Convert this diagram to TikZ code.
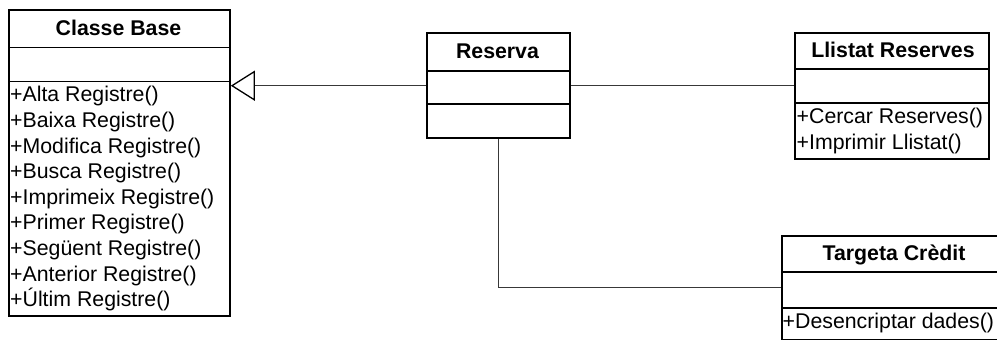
\documentclass[tikz,border=0pt]{standalone}
\usepackage{fontspec}
\setmainfont{Liberation Sans}
\usetikzlibrary{arrows.meta}
\begin{document}
\begin{tikzpicture}[x=1pt,y=-1pt,
  umlbox/.style={draw=black,line width=1.8pt,rectangle,inner sep=0pt,anchor=north west},
  sepline/.style={draw=black,line width=1.8pt},
  conn/.style={draw=black!78,line width=1pt},
  ttl/.style={font=\fontsize{21.3pt}{25.6pt}\selectfont\bfseries,anchor=base,inner sep=0pt},
  op/.style={font=\fontsize{21.3pt}{25.6pt}\selectfont,anchor=base west,inner sep=0pt}]
\useasboundingbox (0,0) rectangle (997,340);

% Classe Base
\node[umlbox,minimum width=221pt,minimum height=306pt] (cb) at (8,9) {};
\draw[sepline] (cb.west |- 0,47.5) -- (cb.east |- 0,47.5);
\draw[sepline] (cb.west |- 0,81.5) -- (cb.east |- 0,81.5);
\node[ttl] (cbt) at (118.5,35) {Classe Base};
\foreach \t [count=\i from 0] in {+Alta Registre(),+Baixa Registre(),+Modifica Registre(),+Busca Registre(),+Imprimeix Registre(),+Primer Registre(),+Següent Registre(),+Anterior Registre(),+Últim Registre()}
  \node[op] (cbop\i) at (10,101.8+25.6*\i) {\t};

% Reserva
\node[umlbox,minimum width=143pt,minimum height=105pt] (res) at (426,32.3) {};
\draw[sepline] (res.west |- 0,70.8) -- (res.east |- 0,70.8);
\draw[sepline] (res.west |- 0,104) -- (res.east |- 0,104);
\node[ttl] (rest) at (497.5,58) {Reserva};

% Llistat Reserves
\node[umlbox,minimum width=194pt,minimum height=126pt] (ll) at (794,32.3) {};
\draw[sepline] (ll.west |- 0,69) -- (ll.east |- 0,69);
\draw[sepline] (ll.west |- 0,103) -- (ll.east |- 0,103);
\node[ttl] (llt) at (893,57) {Llistat Reserves};
\node[op] (llop0) at (796.5,123.8) {+Cercar Reserves()};
\node[op] (llop1) at (796.5,149.4) {+Imprimir Llistat()};

% Targeta Credit
\node[umlbox,minimum width=218pt,minimum height=104pt] (tc) at (781,235) {};
\draw[sepline] (tc.west |- 0,272) -- (tc.east |- 0,272);
\draw[sepline] (tc.west |- 0,308) -- (tc.east |- 0,308);
\node[ttl] (tct) at (894,260) {Targeta Crèdit};
\node[op] (tcop0) at (782.5,328) {+Desencriptar dades()};

% connectors
\draw[conn,-{Triangle[open,length=24pt,width=30pt,line width=1.3pt,color=black]}] (res.west) -- (cb.east |- res.west);
\draw[conn] (res.east) -- (ll.west |- res.east);
\draw[conn] (res.south) |- (tc.west);
\end{tikzpicture}
\end{document}
